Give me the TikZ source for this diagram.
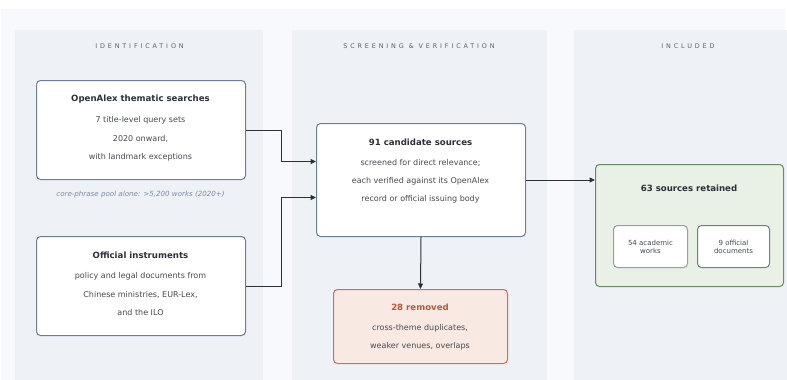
\documentclass[tikz,border=0pt]{standalone}
\usepackage{fontspec}
\setmainfont{DejaVu Sans}
\usetikzlibrary{positioning,arrows.meta}
\definecolor{pagebg}{HTML}{F8F9FC}
\definecolor{panelbg}{HTML}{EEF2F7}
\definecolor{boxline}{HTML}{6E7D92}
\definecolor{ink}{HTML}{2B303A}
\definecolor{bodygray}{HTML}{454A52}
\definecolor{headgray}{HTML}{5A606A}
\definecolor{notegray}{HTML}{7D8AA0}
\definecolor{remfill}{HTML}{F8E9E3}
\definecolor{remline}{HTML}{C4735C}
\definecolor{remtext}{HTML}{B9583B}
\definecolor{retfill}{HTML}{E9F0E6}
\definecolor{retline}{HTML}{6A8A62}
\begin{document}
\begin{tikzpicture}[x=1pt,y=-1pt,
  box/.style={draw=boxline,fill=white,rounded corners=4pt,line width=1pt,inner sep=0pt,anchor=north west},
  head/.style={font=\fontsize{6.4}{7.5}\selectfont\addfontfeature{LetterSpace=45},text=headgray},
  ttl/.style={font=\fontsize{8.6}{10}\selectfont\bfseries,text=ink},
  txt/.style={font=\fontsize{8}{9.5}\selectfont,text=bodygray},
  small/.style={font=\fontsize{7}{8.2}\selectfont,text=bodygray,align=center},
  link/.style={-{Triangle[length=5.5pt,width=5pt]},line width=1pt,draw=ink}]
\useasboundingbox (0,0) rectangle (787,380);
% background and columns
\fill[pagebg] (1,9) rectangle (785,380);
\fill[panelbg] (15,30) rectangle (263,380);
\fill[panelbg] (292,30) rectangle (547,380);
\fill[panelbg] (574,30) rectangle (787,380);
\node[head] (hid) at (139.5,46) {IDENTIFICATION};
\node[head] (hsv) at (419,46) {SCREENING \& VERIFICATION};
\node[head] (hin) at (688,46) {INCLUDED};
% identification
\node[box,minimum width=209,minimum height=99] (oa) at (36,80) {};
\node[ttl] (oat) at (140.5,99) {OpenAlex thematic searches};
\node[txt] (oa1) at (140.5,120) {7 title-level query sets};
\node[txt] (oa2) at (140.5,138.5) {2020 onward,};
\node[txt] (oa3) at (140.5,157) {with landmark exceptions};
\node[font=\fontsize{7.1}{8.5}\selectfont\itshape,text=notegray] (note) at (140.5,195) {core-phrase pool alone: >5,200 works (2020+)};
\node[box,minimum width=209,minimum height=99] (oi) at (36,236) {};
\node[ttl] (oit) at (140.5,255) {Official instruments};
\node[txt] (oi1) at (140.5,276) {policy and legal documents from};
\node[txt] (oi2) at (140.5,294.5) {Chinese ministries, EUR-Lex,};
\node[txt] (oi3) at (140.5,313) {and the ILO};
% screening
\node[box,minimum width=209,minimum height=113] (cand) at (316,123) {};
\node[ttl] (cdt) at (420.5,142) {91 candidate sources};
\node[txt] (cd1) at (420.5,163) {screened for direct relevance;};
\node[txt] (cd2) at (420.5,181) {each verified against its OpenAlex};
\node[txt] (cd3) at (420.5,199) {record or official issuing body};
\node[box,draw=remline,fill=remfill,minimum width=174,minimum height=74] (rem) at (333,289) {};
\node[ttl,text=remtext] (rmt) at (420,307) {28 removed};
\node[txt] (rm1) at (420,328) {cross-theme duplicates,};
\node[txt] (rm2) at (420,346) {weaker venues, overlaps};
% included
\node[box,draw=retline,fill=retfill,minimum width=188,minimum height=122] (ret) at (595,164) {};
\node[ttl] (rtt) at (689,188) {63 sources retained};
\node[box,draw=boxline!75,minimum width=74,minimum height=42] (acad) at (613,225) {};
\node[small] (acadt) at (acad.center) {54 academic\\works};
\node[box,minimum width=72,minimum height=42] (offd) at (697,225) {};
\node[small] (offdt) at (offd.center) {9 official\\documents};
% connectors
\draw[link] (oa.east) -- ++(35,0) |- ([yshift=18.5pt]cand.west);
\draw[link] (oi.east) -- ++(35,0) |- ([yshift=-17.5pt]cand.west);
\draw[link] (cand.east) -- (cand.east -| ret.west);
\draw[link] (cand.south) -- (rem.north);
\end{tikzpicture}
\end{document}
